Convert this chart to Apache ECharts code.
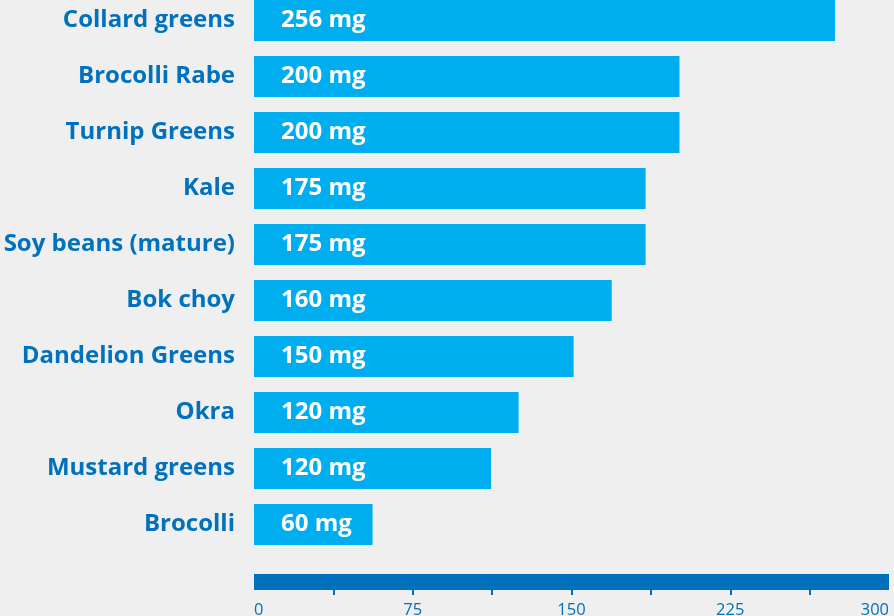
<!DOCTYPE html>
<html>
<head>
<meta charset="utf-8">
<style>
  html, body { margin: 0; padding: 0; background: #efefef; }
  #chart { width: 894px; height: 616px; }
</style>
<script src="https://cdn.jsdelivr.net/npm/echarts@6/dist/echarts.min.js"></script>
</head>
<body>
<div id="chart"></div>
<script>
const categories = ["Collard greens", "Brocolli Rabe", "Turnip Greens", "Kale", "Soy beans (mature)", "Bok choy", "Dandelion Greens", "Okra", "Mustard greens", "Brocolli"];
const barValues = [274.5, 201, 201, 185, 185, 169, 151, 125, 112, 56];
const barLabels = ["256 mg", "200 mg", "200 mg", "175 mg", "175 mg", "160 mg", "150 mg", "120 mg", "120 mg", "60 mg"];
const tickLabels = [0, 75, 150, 225, 300];
const tickMarks = [37.5, 75, 112.5, 150, 187.5, 225, 262.5];

const chart = echarts.init(document.getElementById('chart'), null, { renderer: 'canvas' });
const FONT = '"Open Sans"';
chart.setOption({
  backgroundColor: '#efefef',
  animation: false,
  grid: { left: 254, right: 5, top: -7.5, height: 560, containLabel: false, outerBoundsMode: 'none' },
  xAxis: {
    type: 'value',
    min: 0,
    max: 300,
    interval: 75,
    position: 'bottom',
    offset: 29.5,
    axisLine: { show: true, lineStyle: { color: '#0070ba', width: 16, cap: 'butt' } },
    axisTick: { show: true, customValues: tickMarks, length: 13, lineStyle: { color: '#0070ba', width: 2 } },
    axisLabel: {
      customValues: tickLabels,
      margin: 20,
      color: '#0070ba',
      fontFamily: FONT,
      fontSize: 16.5,
      alignMinLabel: 'left',
      alignMaxLabel: 'right'
    },
    splitLine: { show: false }
  },
  yAxis: {
    type: 'category',
    data: categories,
    inverse: true,
    axisLine: { show: false },
    axisTick: { show: false },
    axisLabel: {
      margin: 19,
      color: '#0071bc',
      fontFamily: FONT,
      fontWeight: 'bold',
      fontSize: 24,
      padding: [4, 0, 0, 0]
    }
  },
  series: [{
    type: 'bar',
    data: barValues,
    barWidth: 41,
    itemStyle: { color: '#00aeef' },
    label: {
      show: true,
      position: 'insideLeft',
      distance: 27,
      color: '#ffffff',
      fontFamily: FONT,
      fontWeight: 'bold',
      fontSize: 24,
      padding: [4, 0, 0, 0],
      formatter: p => barLabels[p.dataIndex]
    }
  }]
});
</script>
</body>
</html>
